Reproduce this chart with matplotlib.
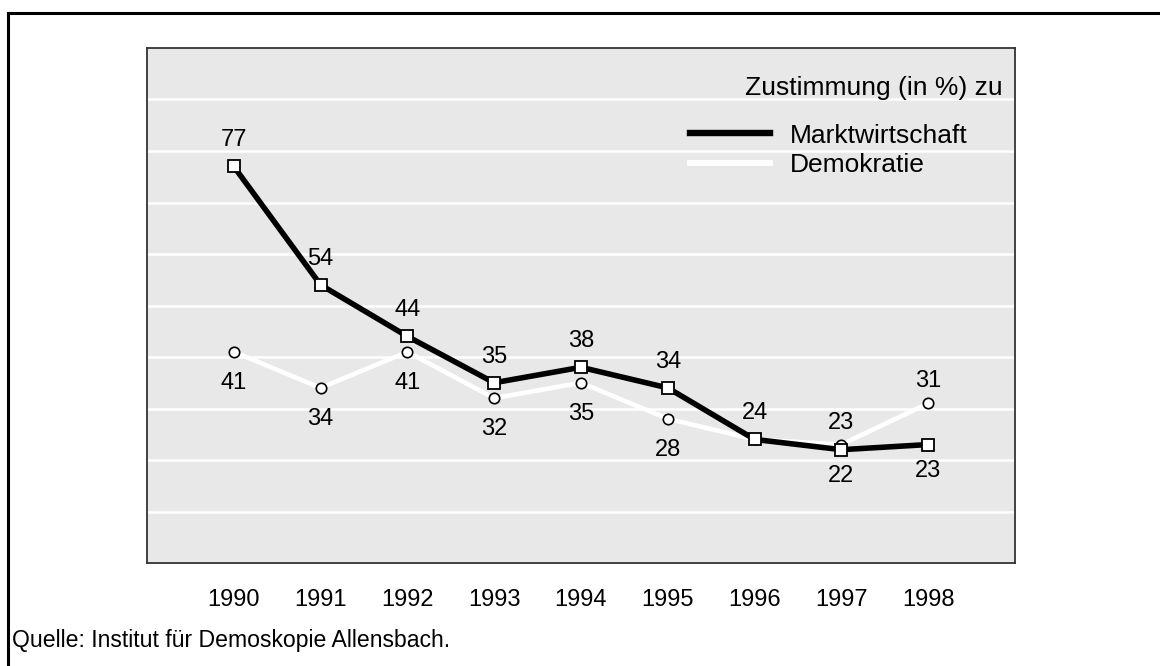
import matplotlib
matplotlib.use("Agg")
import matplotlib.pyplot as plt
from matplotlib.lines import Line2D

years = [1990, 1991, 1992, 1993, 1994, 1995, 1996, 1997, 1998]
markt = [77, 54, 44, 35, 38, 34, 24, 22, 23]
demo = [41, 34, 41, 32, 35, 28, 24, 23, 31]
# label placement: +1 above, -1 below, 0 none
markt_pos = [1, 1, 1, 1, 1, 1, 1, -1, -1]
demo_pos = [-1, -1, -1, -1, -1, -1, 0, 1, 1]

plt.rcParams['font.family'] = ['Liberation Sans', 'DejaVu Sans']

W, H = 1160, 666
fig = plt.figure(figsize=(W/100, H/100), dpi=100)
ax = fig.add_axes([147/W, 1-563/H, (1015-147)/W, (563-48)/H])
ax.set_facecolor('#e8e8e8')
ax.set_xlim(1989, 1999)
ax.set_ylim(0, 100)
for v in range(10, 100, 10):
    ax.axhline(v, color='white', lw=1.8, zorder=1)
ax.set_xticks([])
ax.set_yticks([])
for s in ax.spines.values():
    s.set_color('#333333')
    s.set_linewidth(1.3)

ax.plot(years, demo, color='white', lw=3.3, zorder=3, solid_joinstyle='round')
ax.plot(years, demo, ls='none', marker='o', ms=7.5, mfc='white', mec='black',
        mew=1.2, zorder=4)
ax.plot(years, markt, color='black', lw=4.0, zorder=5, solid_joinstyle='round')
ax.plot(years, markt, ls='none', marker='s', ms=8, mfc='white', mec='black',
        mew=1.3, zorder=6)

fs = 17
off = {('m', 1): 26, ('m', -1): 26, ('d', 1): 22, ('d', -1): 31}
for x, y, p in zip(years, markt, markt_pos):
    if p:
        ax.annotate(str(y), (x, y), xytext=(0, off[('m', p)]*p), textcoords='offset pixels',
                    ha='center', va='center', fontsize=fs, zorder=7)
for x, y, p in zip(years, demo, demo_pos):
    if p:
        ax.annotate(str(y), (x, y), xytext=(0, off[('d', p)]*p), textcoords='offset pixels',
                    ha='center', va='center', fontsize=fs, zorder=7)

# legend
lfs = 19
fig.text(1003/W, 1-88/H, 'Zustimmung (in %) zu', ha='right', va='center', fontsize=lfs)
fig.add_artist(Line2D([690/W, 770/W], [1-133/H, 1-133/H], color='black', lw=4.6))
fig.add_artist(Line2D([690/W, 770/W], [1-163/H, 1-163/H], color='white', lw=4.2))
fig.text(790/W, 1-136/H, 'Marktwirtschaft', ha='left', va='center', fontsize=lfs)
fig.text(790/W, 1-165/H, 'Demokratie', ha='left', va='center', fontsize=lfs)

# year labels
for yr in years:
    x_pix = ax.transData.transform((yr, 0))[0]
    fig.text(x_pix/W, 1-600/H, str(yr), ha='center', va='center', fontsize=fs)

fig.text(12/W, 1-640/H, 'Quelle: Institut für Demoskopie Allensbach.',
         ha='left', va='center', fontsize=16.6)

# outer frame (top and left)
fig.add_artist(Line2D([8/W, 1], [1-13/H, 1-13/H], color='black', lw=2.2))
fig.add_artist(Line2D([8/W, 8/W], [0, 1-13/H], color='black', lw=2.2))

fig.savefig('out.png', dpi=100)
